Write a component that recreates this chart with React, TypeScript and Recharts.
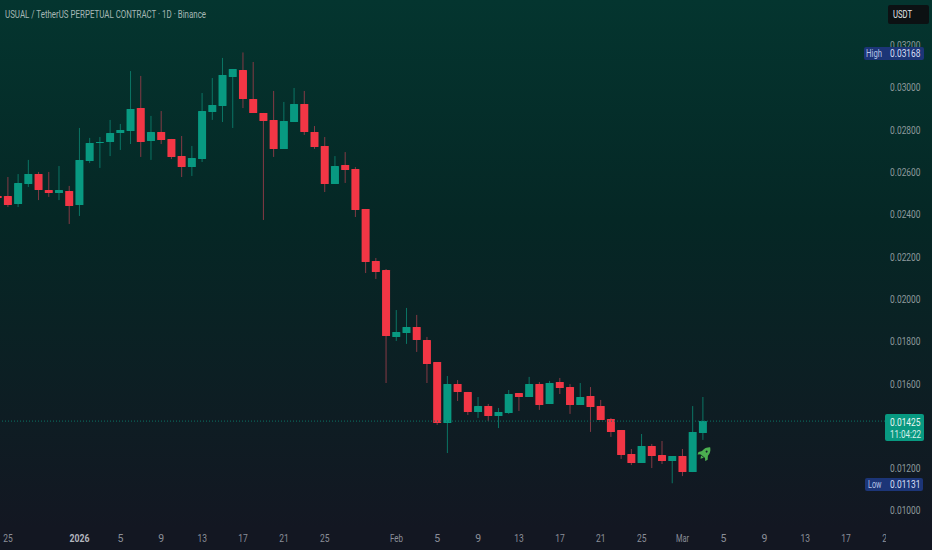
import React from 'react';
import { ComposedChart, Bar, XAxis, YAxis, ReferenceLine } from 'recharts';

const FONT = 'Roboto, sans-serif';
const UP = '#089981';
const DOWN = '#f23645';
const UP_WICK = '#0b7565';
const DOWN_WICK = '#853a45';

const days = [-1, 0, 1, 2, 3, 4, 5, 6, 7, 8, 9, 10, 11, 12, 13, 14, 15, 16, 17, 18, 19, 20, 21, 22, 23, 24, 25, 26, 27, 28, 29, 30, 31, 32, 33, 34, 35, 36, 37, 38, 39, 40, 41, 42, 43, 44, 45, 46, 47, 48, 49, 50, 51, 52, 53, 54, 55, 56, 57, 58, 59, 60, 61, 62, 63, 64, 65, 66, 67, 68];

const opens = [0.02489, 0.02489, 0.02451, 0.02546, 0.02593, 0.02518, 0.02504, 0.02513, 0.02447, 0.02655, 0.0274, 0.02745, 0.02787, 0.02797, 0.02905, 0.02749, 0.02792, 0.02759, 0.02678, 0.02626, 0.02664, 0.02886, 0.02915, 0.03052, 0.03085, 0.02948, 0.02882, 0.02849, 0.02712, 0.02839, 0.02924, 0.02792, 0.02726, 0.02546, 0.02636, 0.02617, 0.02428, 0.02182, 0.02139, 0.01823, 0.01842, 0.0187, 0.01808, 0.01704, 0.01416, 0.016, 0.01563, 0.01468, 0.01496, 0.01449, 0.01463, 0.01558, 0.01539, 0.016, 0.01506, 0.0161, 0.01586, 0.01501, 0.01544, 0.01496, 0.01435, 0.01383, 0.0127, 0.01227, 0.01307, 0.01265, 0.01236, 0.0126, 0.01184, 0.01369];
const closes = [0.0248, 0.02447, 0.02551, 0.02593, 0.02518, 0.02504, 0.02518, 0.02442, 0.0266, 0.0274, 0.02745, 0.02787, 0.02801, 0.02901, 0.02745, 0.02792, 0.02754, 0.02674, 0.02626, 0.02669, 0.02891, 0.0292, 0.03061, 0.0309, 0.02948, 0.02882, 0.02844, 0.02712, 0.02844, 0.02924, 0.02792, 0.02721, 0.02546, 0.02631, 0.02612, 0.02423, 0.02177, 0.0213, 0.01827, 0.01846, 0.0187, 0.01808, 0.01695, 0.01416, 0.016, 0.01563, 0.01468, 0.01496, 0.01449, 0.01468, 0.01553, 0.01539, 0.016, 0.01501, 0.01605, 0.01582, 0.01501, 0.01539, 0.01492, 0.0143, 0.01374, 0.01265, 0.01227, 0.01307, 0.0126, 0.01236, 0.0126, 0.01184, 0.01374, 0.01425];
const highs = [0.02504, 0.02579, 0.02593, 0.0266, 0.02603, 0.02603, 0.02631, 0.02537, 0.02811, 0.02764, 0.02768, 0.02849, 0.0283, 0.0308, 0.03057, 0.02868, 0.02891, 0.02759, 0.02773, 0.02726, 0.02976, 0.03047, 0.03142, 0.0309, 0.03168, 0.03123, 0.02882, 0.02986, 0.02934, 0.03, 0.02986, 0.0282, 0.02768, 0.02678, 0.02697, 0.02626, 0.02428, 0.02196, 0.02144, 0.0195, 0.0196, 0.01927, 0.01823, 0.01704, 0.01638, 0.01619, 0.01563, 0.01539, 0.01506, 0.01487, 0.01572, 0.01558, 0.01634, 0.0161, 0.01615, 0.01629, 0.016, 0.01605, 0.01586, 0.01525, 0.0144, 0.01383, 0.01293, 0.01364, 0.01317, 0.01331, 0.0126, 0.01293, 0.01496, 0.01539];
const lows = [0.02456, 0.02437, 0.02437, 0.02532, 0.0247, 0.02485, 0.0247, 0.02357, 0.02395, 0.02645, 0.02622, 0.02678, 0.02707, 0.02735, 0.02674, 0.0266, 0.02735, 0.02664, 0.02579, 0.02584, 0.0265, 0.02849, 0.02839, 0.02811, 0.02905, 0.02882, 0.02376, 0.02674, 0.02712, 0.02839, 0.02778, 0.02712, 0.02508, 0.02546, 0.02551, 0.0239, 0.02125, 0.02097, 0.01605, 0.01804, 0.0179, 0.01752, 0.01605, 0.01407, 0.01274, 0.0152, 0.01454, 0.0144, 0.01426, 0.01392, 0.01459, 0.01473, 0.01539, 0.01478, 0.01506, 0.01553, 0.01459, 0.01501, 0.01374, 0.0143, 0.0135, 0.01246, 0.01217, 0.01227, 0.01203, 0.01222, 0.01131, 0.01165, 0.01184, 0.01336];

const xTickDays = [0, 7, 11, 15, 19, 23, 27, 31, 38, 42, 46, 50, 54, 58, 62, 66, 70, 74, 78, 82, 86];
const xTickLabels = ['25', '2026', '5', '9', '13', '17', '21', '25', 'Feb', '5', '9', '13', '17', '21', '25', 'Mar', '5', '9', '13', '17', '21'];
// 0.014 sits behind the last price label in the reference
const yTicks = [0.01, 0.012, 0.016, 0.018, 0.02, 0.022, 0.024, 0.026, 0.028, 0.03, 0.032];
const lastPrice = 0.01425;

const data = days.map((day, i) => ({
  day,
  open: opens[i],
  close: closes[i],
  high: highs[i],
  low: lows[i],
  range: [lows[i], highs[i]],
}));

function Candle(props: any) {
  const { x, y, width, height, payload } = props;
  const { open, close, high, low } = payload;
  const up = close >= open;
  const k = height / (high - low);
  const top = y + (high - Math.max(open, close)) * k;
  const bodyH = Math.max(Math.abs(open - close) * k, 1);
  const cx = x + width / 2;
  return (
    <g>
      <line x1={cx} x2={cx} y1={y} y2={y + height} stroke={up ? UP_WICK : DOWN_WICK} strokeWidth={1} />
      <rect x={x} y={top} width={width} height={bodyH} fill={up ? UP : DOWN} rx={0.5} />
    </g>
  );
}

// the reference is squeezed horizontally, so text gets a fixed width
const tickWidths: Record<number, number | undefined> = { 2: 9.5, 3: 13, 4: 20 };

function DayTick(props: any) {
  const { x, payload } = props;
  const label = xTickLabels[xTickDays.indexOf(payload.value)];
  const bold = label === '2026';
  return (
    <g clipPath="url(#paneClip)">
      <text
        x={x}
        y={542}
        textAnchor="middle"
        fontFamily={FONT}
        fontSize={10.5}
        fontWeight={bold ? 700 : 400}
        textLength={tickWidths[label.length]}
        lengthAdjust="spacingAndGlyphs"
        fill={bold ? '#b2b5be' : '#8b8f99'}
      >
        {label}
      </text>
    </g>
  );
}

function PriceTick(props: any) {
  const { y, payload } = props;
  return (
    <text
      x={920.5}
      y={y + 3.5}
      textAnchor="end"
      fontFamily={FONT}
      fontSize={10.5}
      textLength={30.5}
      lengthAdjust="spacingAndGlyphs"
      fill="#8e9a9d"
    >
      {payload.value.toFixed(5)}
    </text>
  );
}

function Squeezed(props: any) {
  return <text fontFamily={FONT} fontSize={10.5} lengthAdjust="spacingAndGlyphs" {...props} />;
}

function Overlay() {
  return (
    <svg width={932} height={550} style={{ position: 'absolute', left: 0, top: 0 }}>
      <Squeezed x={5} y={18} textLength={201} fill="#a6b8b5">
        USUAL / TetherUS PERPETUAL CONTRACT · 1D · Binance
      </Squeezed>

      <rect x={888} y={5} width={41} height={19} rx={2} fill="#0c1113" />
      <Squeezed x={893} y={18} textLength={19} fill="#e6e8ea">USDT</Squeezed>

      <rect x={864} y={47} width={60} height={13} rx={2} fill="#1c3577" />
      <Squeezed x={866} y={57} textLength={16} fill="#b4c2e6">High</Squeezed>
      <Squeezed x={890} y={57} textLength={30.5} fill="#d6dff5">0.03168</Squeezed>

      <rect x={865} y={478} width={58} height={13} rx={2} fill="#1c3577" />
      <Squeezed x={868} y={488} textLength={13.5} fill="#b4c2e6">Low</Squeezed>
      <Squeezed x={890} y={488} textLength={30.5} fill="#d6dff5">0.01131</Squeezed>

      <rect x={885} y={414} width={39} height={27} rx={2} fill={UP} />
      <Squeezed x={890} y={425.5} textLength={30.5} fontSize={10} fill="#e8f5f2">0.01425</Squeezed>
      <Squeezed x={890} y={437.5} textLength={31} fontSize={10} fill="#d8efea">11:04:22</Squeezed>

      <g transform="translate(705 453.5) rotate(40)" fill="#4caf50">
        <path d="M0 -8 C4 -5 4.2 -1 3.4 3.4 L-3.4 3.4 C-4.2 -1 -4 -5 0 -8 Z" />
        <path d="M-3 -1 L-6 3 L-5 5.6 L-2.4 3 Z" />
        <path d="M3 -1 L6 3 L5 5.6 L2.4 3 Z" />
        <path d="M-1.8 4 L1.8 4 L0 7 Z" />
        <circle cx={0} cy={-2.5} r={1} fill="#14202a" />
      </g>
    </svg>
  );
}

export default function App() {
  return (
    <div
      style={{
        position: 'absolute',
        left: 0,
        top: 0,
        width: 932,
        height: 550,
        overflow: 'hidden',
        background: 'linear-gradient(180deg, #04352f 0%, #052725 40%, #131722 96%)',
      }}
    >
      <ComposedChart width={932} height={550} data={data} margin={{ top: 0, right: 0, left: 0, bottom: 0 }}>
        <defs>
          <clipPath id="paneClip">
            <rect x={0} y={0} width={886} height={550} />
          </clipPath>
        </defs>
        <XAxis
          dataKey="day"
          type="number"
          domain={[-0.783, 86.1]}
          allowDataOverflow
          ticks={xTickDays}
          interval={0}
          tick={<DayTick />}
          axisLine={false}
          tickLine={false}
          height={24}
          tickMargin={0}
        />
        <YAxis
          orientation="right"
          type="number"
          domain={[0.00929, 0.03416]}
          allowDataOverflow
          ticks={yTicks}
          interval={0}
          tick={<PriceTick />}
          axisLine={false}
          tickLine={false}
          width={44}
        />
        <ReferenceLine y={lastPrice} stroke="#0b7565" strokeDasharray="1 2" />
        <Bar dataKey="range" barSize={8} shape={<Candle />} isAnimationActive={false} />
      </ComposedChart>
      <Overlay />
    </div>
  );
}
